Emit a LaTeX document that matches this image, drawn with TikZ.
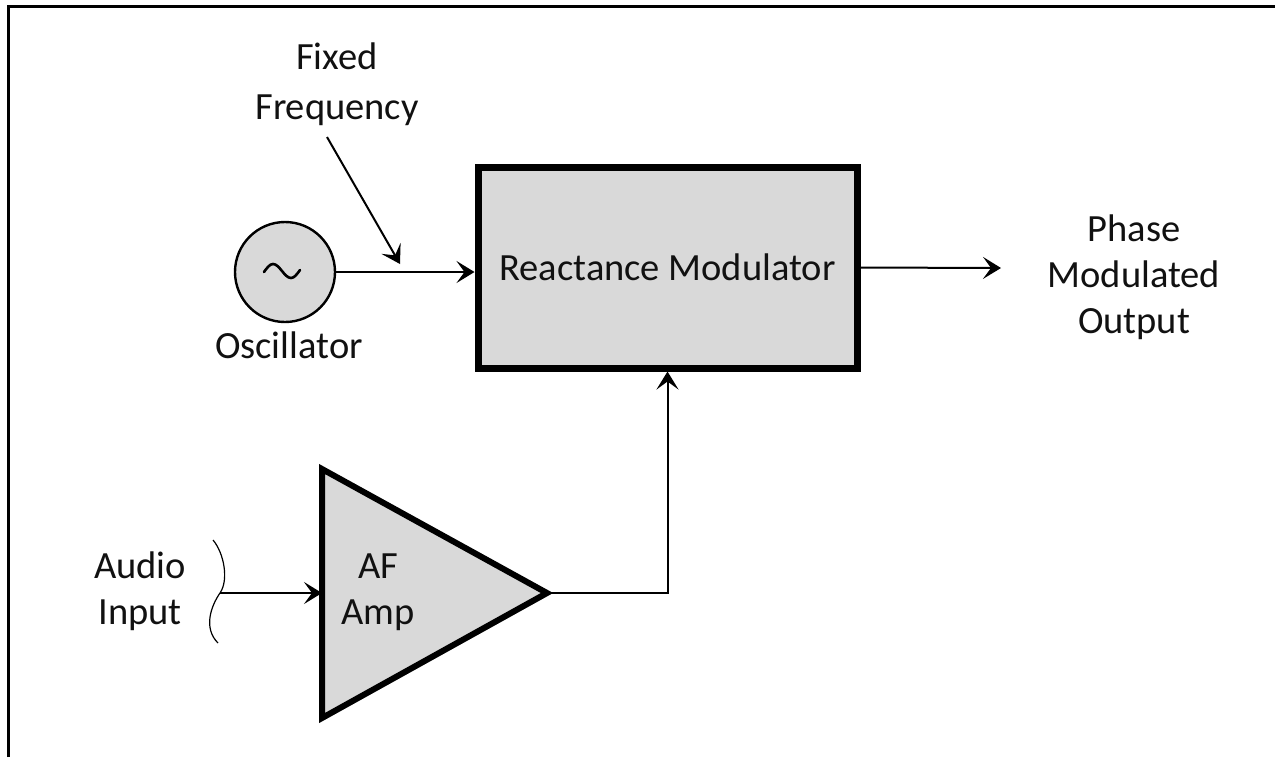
\documentclass[tikz,border=0pt]{standalone}
\usepackage{fontspec}
\setmainfont{Carlito}
\usetikzlibrary{arrows.meta,calc}
\definecolor{boxfill}{HTML}{D9D9D9}
\definecolor{ink}{HTML}{111111}
\begin{document}
\begin{tikzpicture}[x=0.5pt,y=-0.5pt,
  every node/.style={font=\fontsize{19.25pt}{23pt}\selectfont, text=ink, inner sep=0pt},
  label text/.style={align=center},
  blockbox/.style={draw=black, fill=boxfill, line width=3.5pt, minimum width=189.5pt, minimum height=100.5pt},
  oscbox/.style={circle, draw=black, fill=boxfill, line width=1.2pt, minimum size=50pt},
  sig/.style={draw=black, line width=1pt, -{Stealth[length=9pt,width=11pt,inset=4pt]}},
  frame/.style={draw=black, line width=1.5pt}
]
\useasboundingbox (0,0) rectangle (1275,757);
% outer frame (top and left edges only)
\coordinate (frtl) at (8,6);
\coordinate (frtr) at (1275,6);
\coordinate (frbl) at (8,757);
\draw[frame] (frbl) -- (frtl) -- (frtr);

% blocks
\node[blockbox] (rm) at (667.5,267.5) {Reactance Modulator};
\node[oscbox] (osc) at (285,272) {};
\draw[black, line width=1.3pt, line cap=round] (264,272) sin (273,264) cos (282,271) sin (291,278) cos (300,270);

% amplifier triangle
\coordinate (tritop) at (322,469);
\coordinate (tribot) at (322,718);
\coordinate (tritip) at (547,593);
\coordinate (triin) at (322,593);
\draw[black, fill=boxfill, line width=3pt, line join=miter] (tritop) -- (tritip) -- (tribot) -- cycle;
\node[label text] (amp) at (378,592) {AF\\Amp};

% labels
\node[label text] (ffl) at (337,84) {Fixed\\[2pt]Frequency};
\node (oscl) at (289,345.5) {Oscillator};
\node[label text] (outl) at (1134,277) {Phase\\Modulated\\Output};
\node[label text] (audl) at (140,591.5) {Audio\\Input};

% connectors
\draw[sig] (osc.east) -- (osc.east -| rm.west);
\coordinate (ffs) at (327,137);
\coordinate (ffe) at (400,264);
\draw[sig] (ffs) -- (ffe);
\coordinate (outend) at (1001,268);
\draw[sig] (rm.east) -- (outend);
\draw[sig] (tritip) -| (rm.south);

% audio input with brace-like curve
\coordinate (audj) at (220,593);
\coordinate (audt) at (213,540);
\coordinate (audb) at (218,643);
\draw[black, line width=0.6pt] (audt) .. controls (224,553) and (229,580) .. (audj) .. controls (211,606) and (203,628) .. (audb);
\draw[sig] (audj) -- (triin);
\end{tikzpicture}
\end{document}
